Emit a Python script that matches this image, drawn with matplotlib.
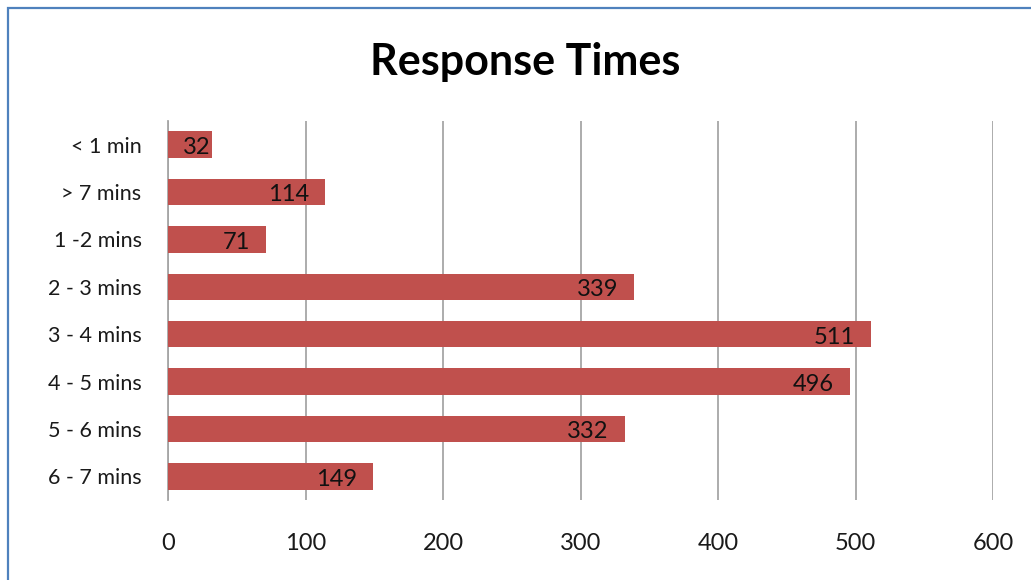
import matplotlib.pyplot as plt
from matplotlib.patches import Rectangle

categories = ['< 1 min', '> 7 mins', '1 -2 mins', '2 - 3 mins',
              '3 - 4 mins', '4 - 5 mins', '5 - 6 mins', '6 - 7 mins']
counts = [32, 114, 71, 339, 511, 496, 332, 149]
x_ticks = [0, 100, 200, 300, 400, 500, 600]

plt.rcParams['font.family'] = ['Lato', 'DejaVu Sans']

fig = plt.figure(figsize=(10.31, 5.80), dpi=100)
fig.patches.append(Rectangle((8 / 1031, -0.1), 1.2, 1.1 - 8 / 580,
                             transform=fig.transFigure, fill=False,
                             edgecolor='#4f81bd', linewidth=1.6))

ax = fig.add_axes([168 / 1031, 80 / 580, 825 / 1031, 379 / 580])
ypos = list(range(len(categories)))
ax.barh(ypos, counts, height=0.56, color='#c0504d', zorder=3)

ax.set_xlim(0, 600)
ax.set_ylim(len(categories) - 0.5, -0.5)
ax.set_xticks(x_ticks)
ax.set_yticks(ypos)
ax.set_yticklabels(categories)
ax.tick_params(axis='both', length=0, colors='#1a1a1a')
ax.tick_params(axis='y', pad=19, labelsize=15.5)
ax.tick_params(axis='x', pad=24, labelsize=17)
ax.grid(axis='x', color='#a6a6a6', linewidth=1.3, zorder=0)
for side in ['top', 'right', 'bottom']:
    ax.spines[side].set_visible(False)
ax.spines['left'].set_color('#a6a6a6')
ax.spines['left'].set_linewidth(1.3)
ax.spines['left'].set_zorder(2)

# value labels inside the bar end
px_per_unit = 825 / 600
for i, v in enumerate(counts):
    right_px = max(v * px_per_unit - 16, 42)
    ax.text(right_px / px_per_unit, i + 0.06, str(v), ha='right', va='center',
            fontsize=17, color='#111111', zorder=4)

fig.text(525 / 1031, 1 - 62 / 580, 'Response Times', ha='center', va='center',
         fontsize=31, fontweight='bold', color='#000000')

fig.savefig('out.png', dpi=100)
